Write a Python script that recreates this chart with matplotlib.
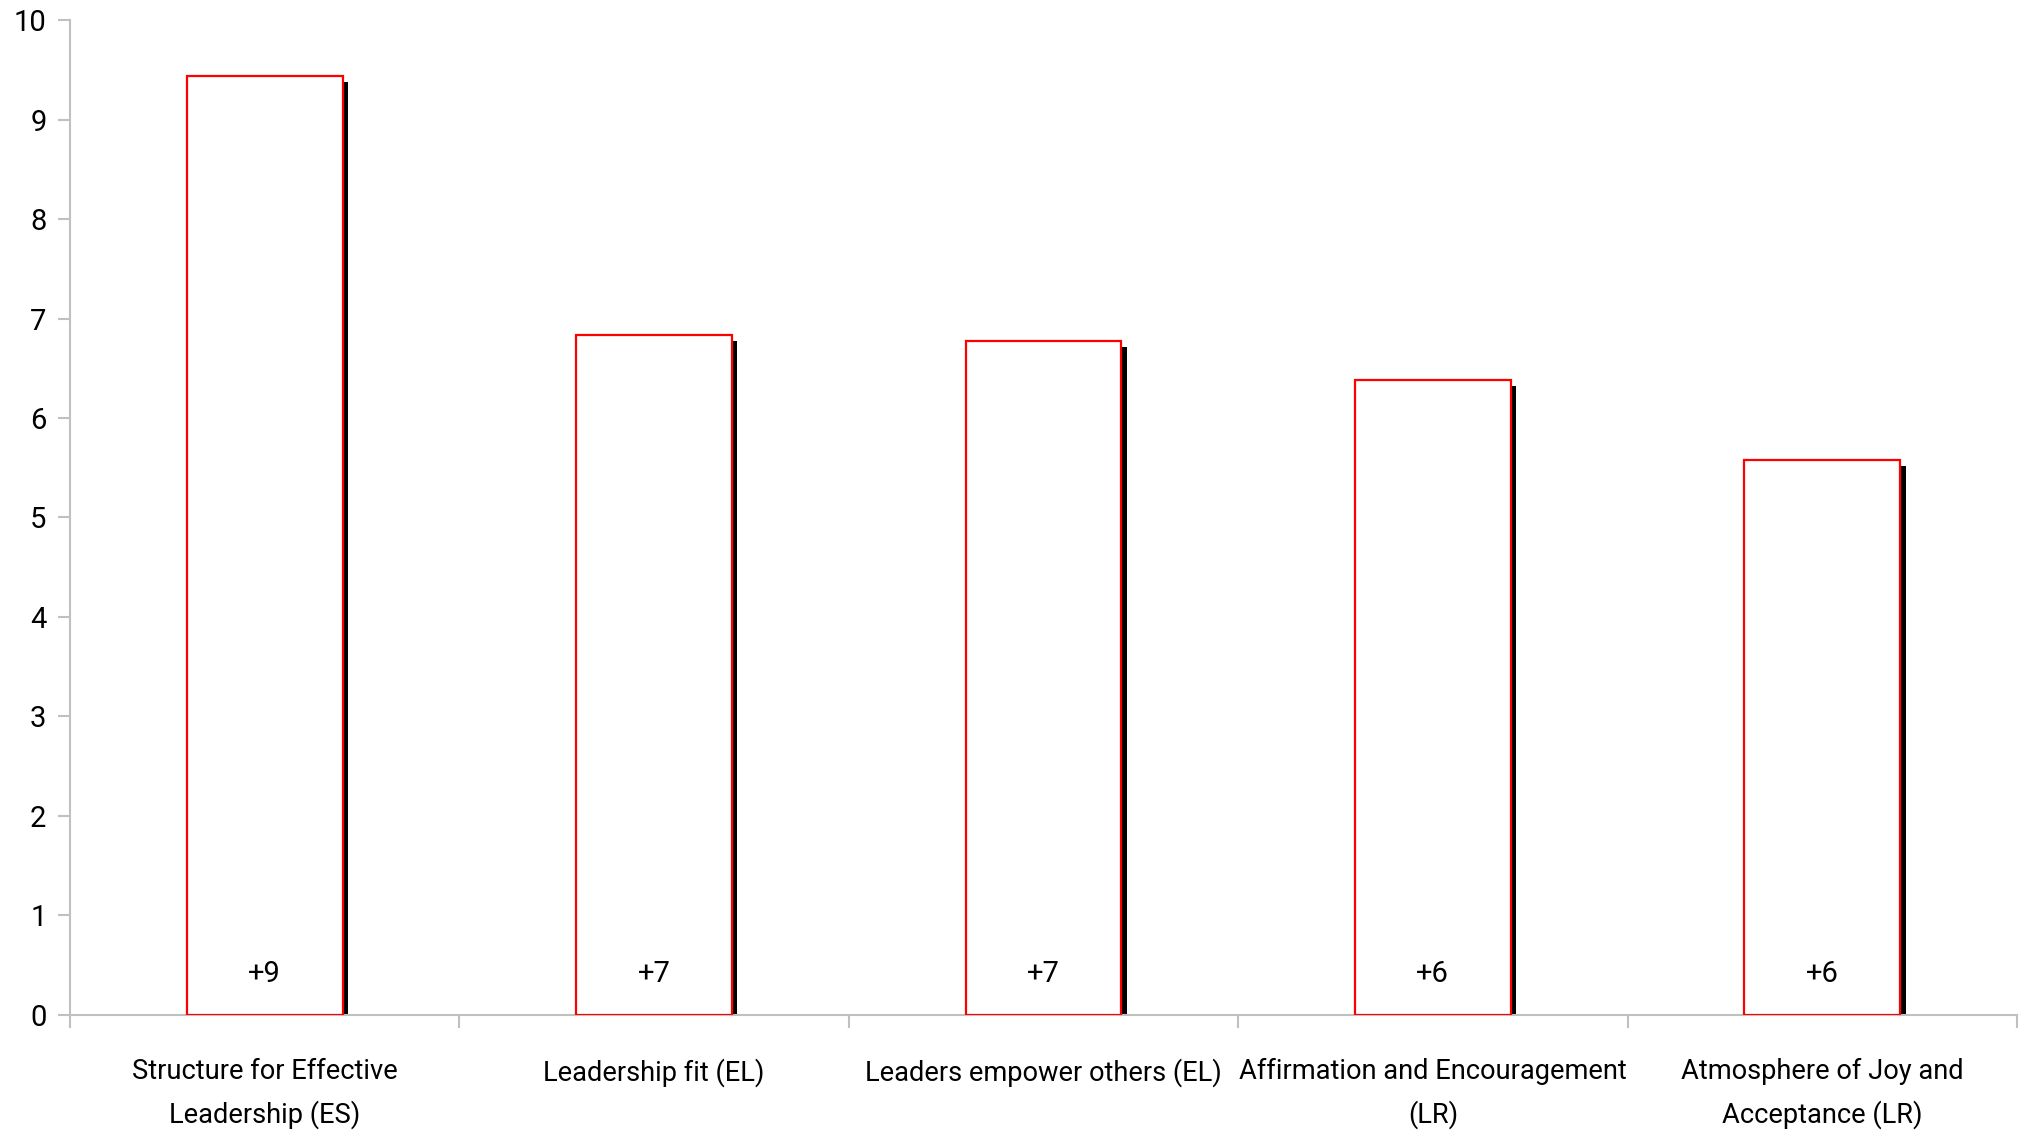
import matplotlib
matplotlib.use("Agg")
import matplotlib.pyplot as plt
import numpy as np

categories = ["Structure for Effective\nLeadership (ES)", "Leadership fit (EL)",
              "Leaders empower others (EL)", "Affirmation and Encouragement\n(LR)",
              "Atmosphere of Joy and\nAcceptance (LR)"]
values = [9.44, 6.83, 6.77, 6.38, 5.58]
bar_labels = ["+9", "+7", "+7", "+6", "+6"]
yticks = [0, 1, 2, 3, 4, 5, 6, 7, 8, 9, 10]

plt.rcParams['font.family'] = ['Roboto', 'DejaVu Sans']

fig = plt.figure(figsize=(20.25, 11.32), dpi=100)
ax = fig.add_axes([0.0346, 0.1034, 0.9614, 0.8789])

x = np.arange(len(values))
w = 0.40
vals = np.array(values)
ax.bar(x + 0.014, vals - 0.06, width=w, color="black", zorder=2)
ax.bar(x, vals, width=w, facecolor="white", edgecolor="#ff0000", linewidth=1.6, zorder=3)

for xi, lab in zip(x, bar_labels):
    ax.text(xi, 0.41, lab, ha="center", va="center", fontsize=21, zorder=4)

ax.set_xlim(-0.5, len(values) - 0.5)
ax.set_ylim(0, 10)
ax.set_yticks(yticks)
ax.set_xticks(x)
ax.set_xticklabels(categories, fontsize=19.6, linespacing=1.7, va="top")
ax.set_xticks(np.arange(len(values) + 1) - 0.5, minor=True)
ax.tick_params(axis="x", which="major", length=0, pad=31)
ax.tick_params(axis="x", which="minor", length=9, width=1.5, color="#c0c0c0", direction="out")
ax.tick_params(axis="y", length=9, width=1.5, color="#c0c0c0", labelsize=21, pad=8)

for s in ["top", "right"]:
    ax.spines[s].set_visible(False)
for s in ["left", "bottom"]:
    ax.spines[s].set_color("#c0c0c0")
    ax.spines[s].set_linewidth(1.5)

fig.savefig("out.png", dpi=100)
